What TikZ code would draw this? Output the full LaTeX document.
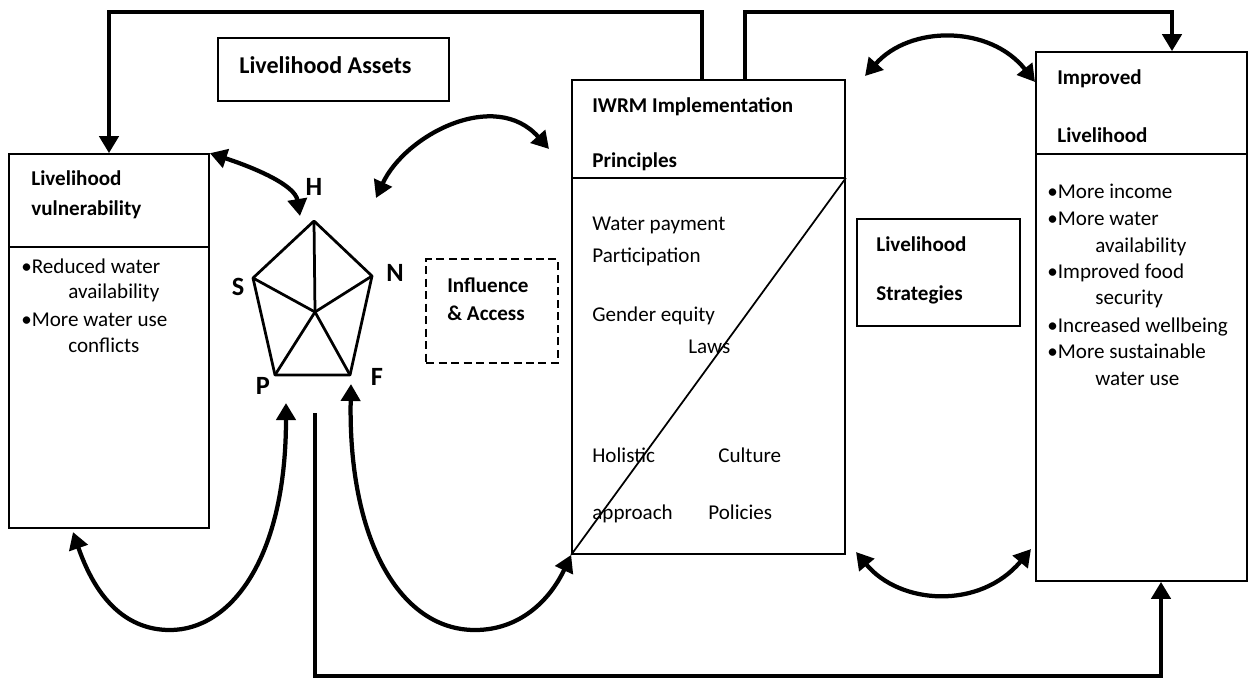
\documentclass[tikz,border=0pt]{standalone}
\usepackage{fontspec}
\setmainfont{Carlito}
\usepackage{tikz}
\usetikzlibrary{
    arrows.meta,
    calc,
    positioning
}

\tikzset{
    box/.style={draw, line width=0.035cm, inner sep=0pt},
    dashbox/.style={draw, line width=0.05cm, dash pattern=on 0.16cm off 0.09cm, inner sep=0pt},
    bigarrow/.style={line width=0.085cm, -{Triangle[length=0.34cm,width=0.38cm]}},
    twoway/.style={line width=0.085cm, {Triangle[length=0.34cm,width=0.38cm]}-{Triangle[length=0.34cm,width=0.38cm]}},
    txt/.style={anchor=base west, inner sep=0pt, font=\fontsize{12}{14}\selectfont},
    head/.style={anchor=base west, inner sep=0pt, font=\fontsize{12}{14}\selectfont\bfseries},
    corner/.style={font=\fontsize{15}{18}\selectfont\bfseries}
}

\begin{document}
\begin{tikzpicture}[x=0.02cm, y=-0.02cm]
                                \useasboundingbox (0,0) rectangle (1250,681);
                                % boxes
                                \node[box, minimum width=4cm, minimum height=7.48cm] (vul) at (109, 341) {};
                                \node[box, minimum width=4.62cm, minimum height=1.26cm] (assets) at (333.5, 69.5) {};
                                \node[box, minimum width=5.46cm, minimum height=9.48cm] (iwrm) at (708.5, 317) {};
                                \node[box, minimum width=3.26cm, minimum height=2.14cm] (strat) at (938.5, 272.5) {};
                                \node[box, minimum width=4.22cm, minimum height=10.58cm] (impr) at (1141.5, 316.5) {};
                                \node[dashbox, minimum width=2.64cm, minimum height=2.08cm] (infl) at (492, 311) {};
                                \coordinate (vdiv) at (0, 247);
                                \coordinate (idiv) at (0, 178);
                                \coordinate (pdiv) at (0, 154);
                                \draw[line width=0.035cm] (vul.west |- vdiv) -- (vul.east |- vdiv);
                                \draw[line width=0.035cm] (iwrm.west |- idiv) -- (iwrm.east |- idiv);
                                \draw[line width=0.035cm] (impr.west |- pdiv) -- (impr.east |- pdiv);
                                \draw[line width=0.035cm] (iwrm.south west) -- (iwrm.east |- idiv);

                                % texts
                                \node[head, font=\fontsize{13.7}{16}\selectfont\bfseries] (assetsT) at (239, 73) {Livelihood Assets};
                                \node[head] (vulT1) at (31, 185) {Livelihood};
                                \node[head] (vulT2) at (31, 215) {vulnerability};
                                \node[txt] (vulB1) at (21, 273) {•Reduced water};
                                \node[txt] (vulB2) at (68, 298) {availability};
                                \node[txt] (vulB3) at (21, 326) {•More water use};
                                \node[txt] (vulB4) at (68, 352) {conflicts};
                                \node[head] (inflT1) at (447, 292) {Influence};
                                \node[head] (inflT2) at (447, 320) {\& Access};
                                \node[head] (iwrmT1) at (592, 112) {IWRM Implementation};
                                \node[head] (iwrmT2) at (592, 167) {Principles};
                                \node[txt] (pay) at (592, 230) {Water payment};
                                \node[txt] (part) at (592, 262) {Participation};
                                \node[txt] (gender) at (592, 321) {Gender equity};
                                \node[txt] (laws) at (688, 353) {Laws};
                                \node[txt] (holi) at (592, 462) {Holistic};
                                \node[txt] (cult) at (718, 462) {Culture};
                                \node[txt] (appr) at (592, 519) {approach};
                                \node[txt] (poli) at (708, 519) {Policies};
                                \node[head] (stratT1) at (876, 251) {Livelihood};
                                \node[head] (stratT2) at (876, 300) {Strategies};
                                \node[head] (imprT1) at (1057, 84) {Improved};
                                \node[head] (imprT2) at (1057, 142) {Livelihood};
                                \node[txt] (imprB1) at (1047, 198) {•More income};
                                \node[txt] (imprB2) at (1047, 225) {•More water};
                                \node[txt] (imprB3) at (1095, 252) {availability};
                                \node[txt] (imprB4) at (1047, 278) {•Improved food};
                                \node[txt] (imprB5) at (1095, 304) {security};
                                \node[txt] (imprB6) at (1047, 332) {•Increased wellbeing};
                                \node[txt] (imprB7) at (1047, 358) {•More sustainable};
                                \node[txt] (imprB8) at (1095, 385) {water use};

                                % asset pentagon
                                \coordinate (h) at (314, 221);
                                \coordinate (n) at (372, 276);
                                \coordinate (f) at (350, 375);
                                \coordinate (p) at (275, 375);
                                \coordinate (s) at (253, 278);
                                \coordinate (m) at (315, 312);
                                \draw[line width=0.055cm, line join=round] (h) -- (n) -- (f) -- (p) -- (s) -- cycle;
                                \foreach \v in {h, n, f, p, s}
                                    \draw[line width=0.055cm] (m) -- (\v);
                                \node[corner] (hT) at (314, 187) {H};
                                \node[corner] (nT) at (395, 273) {N};
                                \node[corner] (fT) at (377, 377) {F};
                                \node[corner] (pT) at (263, 386) {P};
                                \node[corner] (sT) at (238, 287) {S};

                                % arrow ends
                                \coordinate (topl) at (702, 12);
                                \coordinate (topr) at (745, 12);
                                \coordinate (tr) at (1172, 12);
                                \coordinate (bs) at (315, 413);
                                \coordinate (bl) at (315, 676);
                                \coordinate (br) at (1161, 676);
                                \coordinate (hIn) at (300, 216);
                                \coordinate (nIn) at (376, 198);
                                \coordinate (iIn) at (549, 149);
                                \coordinate (sL) at (865, 76);
                                \coordinate (sR) at (1035, 82);
                                \coordinate (dL) at (856, 552);
                                \coordinate (dR) at (1031, 549);
                                \coordinate (vIn) at (73, 532);
                                \coordinate (pIn) at (286, 403);
                                \coordinate (fIn) at (351, 384);

                                % connectors
                                \draw[bigarrow] (iwrm.north -| topl) -- (topl) -- (topl -| vul.north) -- (vul.north);
                                \draw[bigarrow] (iwrm.north -| topr) -- (topr) -- (tr) -- (tr |- impr.north);
                                \draw[bigarrow] (bs) -- (bl) -- (br) -- (br |- impr.south);
                                \draw[twoway] (vul.north east) .. controls (255, 168) and (295, 185) .. (hIn);
                                \draw[twoway] (nIn) .. controls (405, 135) and (495, 88) .. (iIn);
                                \draw[twoway] (sL) .. controls (910, 25) and (990, 25) .. (sR);
                                \draw[twoway] (dL) .. controls (900, 605) and (980, 610) .. (dR);
                                \draw[twoway] (vIn) .. controls (100, 610) and (135, 630) .. (170, 630)
                                    .. controls (230, 630) and (286, 560) .. (pIn);
                                \draw[twoway] (fIn) .. controls (348, 540) and (400, 630) .. (475, 630)
                                    .. controls (520, 630) and (550, 600) .. (iwrm.south west);
                            \end{tikzpicture}
\end{document}
